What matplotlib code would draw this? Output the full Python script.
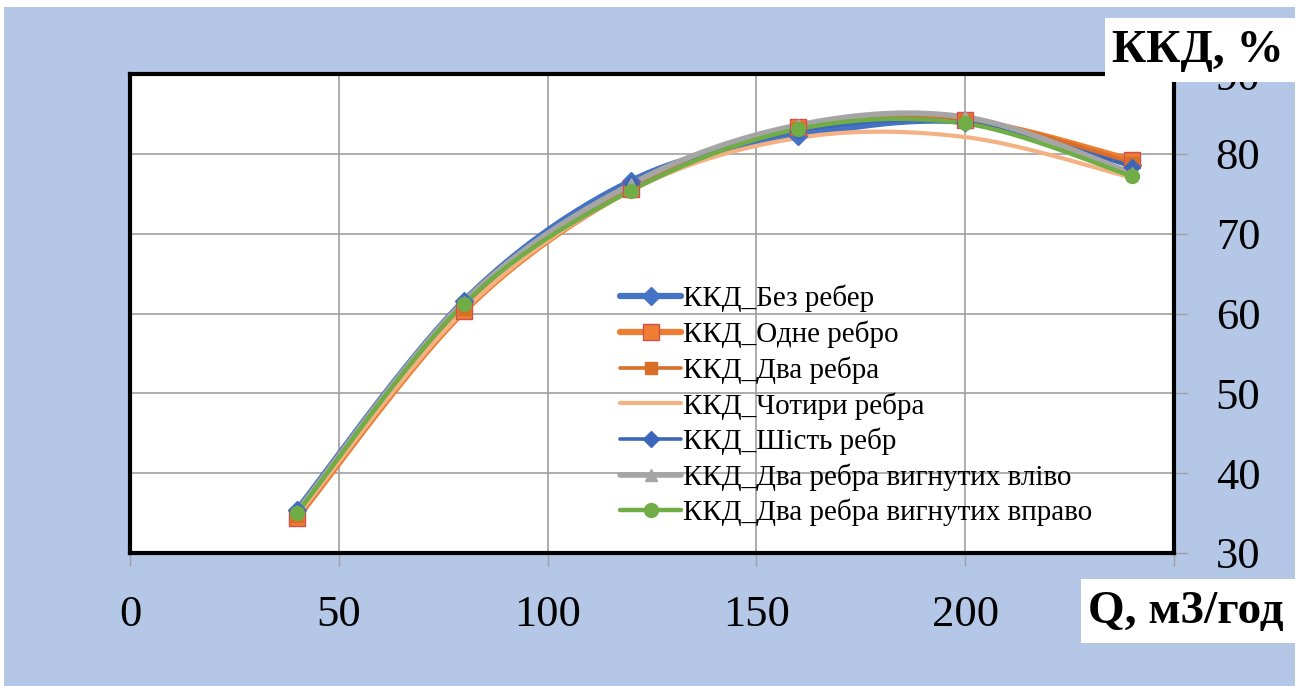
import matplotlib.pyplot as plt
import numpy as np
from matplotlib.patches import Rectangle
from matplotlib.lines import Line2D

plt.rcParams['font.family'] = ['Liberation Serif', 'DejaVu Serif']

# подача, м3/год
q = [40, 80, 120, 160, 200, 240]

# ККД, %
kkd_bez = [35.4, 61.6, 76.6, 82.2, 84.0, 78.6]
kkd_odne = [34.4, 60.3, 75.6, 83.4, 84.2, 79.2]
kkd_dva = [34.6, 60.6, 75.7, 83.2, 84.3, 78.9]
kkd_chotyry = [34.6, 60.4, 75.4, 82.0, 82.1, 77.0]
kkd_shist = [35.3, 61.4, 76.3, 82.8, 83.9, 78.4]
kkd_vlivo = [35.2, 61.5, 76.2, 83.6, 84.6, 77.6]
kkd_vpravo = [35.0, 61.2, 75.4, 83.1, 83.8, 77.2]

names = ['ККД_Без ребер', 'ККД_Одне ребро', 'ККД_Два ребра', 'ККД_Чотири ребра',
         'ККД_Шість ребр', 'ККД_Два ребра вигнутих вліво', 'ККД_Два ребра вигнутих вправо']

x_ticks = [0, 50, 100, 150, 200, 250]
x_labels = ['0', '50', '100', '150', '200', '']


def smooth(x, y, n=40):
    # згладжування як в Excel (кубічні Безьє, катмулл-ром)
    p = np.column_stack([x, y]).astype(float)
    p = np.vstack([p[0], p, p[-1]])
    out = []
    t = np.linspace(0, 1, n)[:, None]
    for i in range(1, len(p) - 2):
        p0, p1, p2, p3 = p[i - 1], p[i], p[i + 1], p[i + 2]
        b1 = p1 + (p2 - p0) / 6
        b2 = p2 - (p3 - p1) / 6
        seg = (1 - t) ** 3 * p1 + 3 * (1 - t) ** 2 * t * b1 + 3 * (1 - t) * t ** 2 * b2 + t ** 3 * p2
        out.append(seg if i == 1 else seg[1:])
    s = np.vstack(out)
    return s[:, 0], s[:, 1]


fig = plt.figure(figsize=(13.06, 6.86), dpi=100, facecolor='white')
fig.patches.append(Rectangle((4 / 1306, 0), 1291 / 1306, 679 / 686, transform=fig.transFigure,
                             facecolor='#B4C7E7', edgecolor='none', zorder=-10))

ax = fig.add_axes([130 / 1306, 133 / 686, 1044 / 1306, 479 / 686])
ax.set_facecolor('white')

# (дані, колір лінії, товщина, маркер, розмір, заливка, контур)
series = [
    (kkd_bez, '#4472C4', 4.5, 'D', 9, '#4472C4', '#4472C4'),
    (kkd_odne, '#ED7D31', 4.5, 's', 11, '#ED7D31', '#D0504D'),
    (kkd_dva, '#D86E28', 2.6, 's', 8, '#D86E28', '#D86E28'),
    (kkd_chotyry, '#F4B183', 3, 'None', 0, 'none', 'none'),
    (kkd_shist, '#3D66B8', 2.6, 'D', 8, '#3D66B8', '#3D66B8'),
    (kkd_vlivo, '#A5A5A5', 4, '^', 9, '#A5A5A5', '#A5A5A5'),
    (kkd_vpravo, '#70AD47', 3.2, 'o', 10, '#70AD47', '#70AD47'),
]

handles = []
for (vals, c, lw, mk, ms, mfc, mec), name in zip(series, names):
    xs, ys = smooth(q, vals)
    ax.plot(xs, ys, color=c, lw=lw, solid_capstyle='round', zorder=3)
    ax.plot(q, vals, ls='none', marker=mk, ms=ms, mfc=mfc, mec=mec, zorder=4)
    handles.append(Line2D([], [], color=c, lw=lw, marker=mk, ms=ms, mfc=mfc, mec=mec,
                          solid_capstyle='round', label=name))

ax.set_xlim(0, 250)
ax.set_ylim(30, 90)
ax.set_xticks(x_ticks)
ax.set_xticklabels(x_labels)
ax.set_yticks(np.arange(30, 91, 10))
ax.grid(True, color='#A0A0A0', lw=1.2, zorder=1)
ax.set_axisbelow(True)

ax.yaxis.tick_right()
ax.tick_params(axis='y', direction='out', length=10, width=1, color='#A0A0A0', pad=20, labelsize=32)
ax.tick_params(axis='x', direction='out', length=9, width=1, color='#A0A0A0', pad=21, labelsize=32)

for s in ax.spines.values():
    s.set_color('black')
    s.set_linewidth(3)

leg = fig.legend(handles=handles, loc='upper left', bbox_to_anchor=(620 / 1306, 1 - 285 / 686),
                 frameon=False, fontsize=21, labelspacing=0.28, handlelength=2.1,
                 handletextpad=0.05, borderpad=0, borderaxespad=0)
leg.set_zorder(5)

# підписи осей у білих рамках
fig.patches.append(Rectangle((1105 / 1306, 1 - 82 / 686), 190 / 1306, 64 / 686,
                             transform=fig.transFigure, facecolor='white', edgecolor='none', zorder=10))
fig.text(1198 / 1306, 1 - 51 / 686, 'ККД, %', ha='center', va='center', fontsize=34,
         fontweight='bold', zorder=11)
fig.patches.append(Rectangle((1081 / 1306, 1 - 643 / 686), 214 / 1306, 64 / 686,
                             transform=fig.transFigure, facecolor='white', edgecolor='none', zorder=10))
fig.text(1186 / 1306, 1 - 612 / 686, 'Q, м3/год', ha='center', va='center', fontsize=34,
         fontweight='bold', zorder=11)

fig.savefig('out.png', dpi=100, facecolor=fig.get_facecolor())
